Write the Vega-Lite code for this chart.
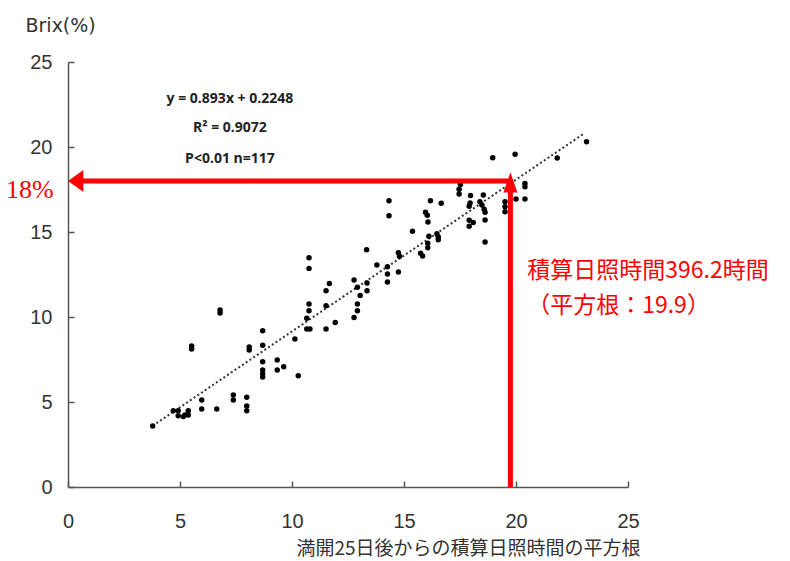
{
  "$schema": "https://vega.github.io/schema/vega-lite/v6.json",
  "width": 560,
  "height": 425,
  "autosize": {"type": "none"},
  "padding": {"left": 68, "top": 62, "right": 162, "bottom": 74},
  "background": "white",
  "config": {"view": {"stroke": null}, "axis": {"grid": false}},
  "datasets": {
    "pts": [
      {"x": 3.78, "y": 3.59}, {"x": 4.70, "y": 4.49}, {"x": 4.92, "y": 4.49}, {"x": 4.92, "y": 4.19},
      {"x": 5.15, "y": 4.14}, {"x": 5.22, "y": 4.24}, {"x": 5.37, "y": 4.49}, {"x": 5.37, "y": 4.24},
      {"x": 5.52, "y": 8.29}, {"x": 5.52, "y": 8.12}, {"x": 5.97, "y": 5.12}, {"x": 5.97, "y": 4.59},
      {"x": 6.64, "y": 4.59}, {"x": 6.79, "y": 10.41}, {"x": 6.79, "y": 10.24}, {"x": 7.38, "y": 5.41},
      {"x": 7.38, "y": 5.12}, {"x": 7.98, "y": 5.28}, {"x": 7.98, "y": 4.76}, {"x": 7.98, "y": 4.49},
      {"x": 8.09, "y": 8.24}, {"x": 8.09, "y": 8.06}, {"x": 8.69, "y": 9.19}, {"x": 8.69, "y": 8.34},
      {"x": 8.69, "y": 7.37}, {"x": 8.69, "y": 6.88}, {"x": 8.69, "y": 6.65}, {"x": 8.69, "y": 6.47},
      {"x": 9.34, "y": 7.47}, {"x": 9.34, "y": 6.88}, {"x": 9.63, "y": 7.08}, {"x": 10.13, "y": 8.71},
      {"x": 10.28, "y": 6.55}, {"x": 10.66, "y": 9.92}, {"x": 10.66, "y": 9.29}, {"x": 10.80, "y": 9.29},
      {"x": 10.76, "y": 10.76}, {"x": 10.76, "y": 10.37}, {"x": 10.76, "y": 13.49}, {"x": 10.76, "y": 12.86},
      {"x": 11.52, "y": 11.55}, {"x": 11.67, "y": 11.97}, {"x": 11.52, "y": 10.66}, {"x": 11.52, "y": 9.29},
      {"x": 11.93, "y": 9.68}, {"x": 12.77, "y": 12.18}, {"x": 12.92, "y": 11.75}, {"x": 13.04, "y": 11.26},
      {"x": 12.92, "y": 10.76}, {"x": 12.92, "y": 10.37}, {"x": 12.77, "y": 9.97}, {"x": 13.35, "y": 12.0},
      {"x": 13.35, "y": 11.54}, {"x": 13.33, "y": 13.96}, {"x": 13.79, "y": 13.06}, {"x": 14.26, "y": 12.96},
      {"x": 14.26, "y": 12.53}, {"x": 14.26, "y": 12.06}, {"x": 14.33, "y": 16.84}, {"x": 14.33, "y": 15.96},
      {"x": 14.75, "y": 13.78}, {"x": 14.80, "y": 13.57}, {"x": 14.75, "y": 12.65}, {"x": 15.38, "y": 15.04},
      {"x": 15.74, "y": 13.75}, {"x": 15.83, "y": 13.59}, {"x": 15.96, "y": 16.16}, {"x": 16.04, "y": 15.98},
      {"x": 16.07, "y": 15.59}, {"x": 16.11, "y": 14.75}, {"x": 16.47, "y": 14.90}, {"x": 16.53, "y": 14.71},
      {"x": 16.53, "y": 14.55}, {"x": 16.18, "y": 16.84}, {"x": 16.66, "y": 16.69}, {"x": 16.06, "y": 14.34},
      {"x": 16.06, "y": 14.08}, {"x": 17.52, "y": 17.79}, {"x": 17.46, "y": 17.51}, {"x": 17.46, "y": 17.24},
      {"x": 17.97, "y": 17.15}, {"x": 17.95, "y": 16.71}, {"x": 17.91, "y": 16.51}, {"x": 18.54, "y": 17.18},
      {"x": 18.39, "y": 16.78}, {"x": 18.48, "y": 16.59}, {"x": 18.58, "y": 16.34}, {"x": 18.62, "y": 16.16},
      {"x": 17.91, "y": 15.69}, {"x": 18.09, "y": 15.56}, {"x": 17.91, "y": 15.34}, {"x": 18.62, "y": 15.71},
      {"x": 18.62, "y": 14.41}, {"x": 19.51, "y": 16.78}, {"x": 19.51, "y": 16.49}, {"x": 19.51, "y": 16.19},
      {"x": 20.0, "y": 16.94}, {"x": 20.40, "y": 16.94}, {"x": 20.40, "y": 17.86}, {"x": 20.40, "y": 17.66},
      {"x": 18.96, "y": 19.37}, {"x": 19.96, "y": 19.57}, {"x": 21.84, "y": 19.35}, {"x": 23.15, "y": 20.31}
    ],
    "trend": [{"x": 3.78, "y": 3.60}, {"x": 23.0, "y": 20.76}],
    "redrules": [
      {"x": 0.6, "x2": 19.85, "y": 18.0, "y2": 18.0},
      {"x": 19.75, "x2": 19.75, "y": 0, "y2": 17.6}
    ],
    "headleft": [{"x": 0, "y": 18.0}],
    "headup": [{"x": 19.75, "y": 18.5}],
    "eqn": [
      {"x": 7.23, "y": 22.8, "label": "y = 0.893x + 0.2248"},
      {"x": 7.23, "y": 21.1, "label": "R² = 0.9072"},
      {"x": 7.23, "y": 19.3, "label": "P<0.01  n=117"}
    ],
    "pct": [{"x": -1.7, "y": 17.47, "label": "18%"}],
    "note": [
      {"x": 20.5, "y": 12.7, "label": "積算日照時間396.2時間"},
      {"x": 20.5, "y": 10.65, "label": "（平方根：19.9）"}
    ]
  },
  "encoding": {
    "x": {
      "field": "x", "type": "quantitative",
      "scale": {"domain": [0, 25], "nice": false, "zero": false},
      "axis": {
        "values": [0, 5, 10, 15, 20, 25], "tickSize": -6, "labelPadding": 30,
        "labelFlush": false, "labelOverlap": false,
        "labelFont": "Liberation Sans", "labelFontSize": 20, "labelColor": "#333",
        "domainColor": "#555", "tickColor": "#555", "domainWidth": 1.5, "tickWidth": 1.5,
        "title": "満開25日後からの積算日照時間の平方根",
        "titleFont": "Noto Sans CJK JP", "titleFontSize": 19, "titleFontWeight": "normal",
        "titleColor": "#333", "titleX": 572, "titleY": 61, "titleAlign": "right", "titleBaseline": "middle"
      }
    },
    "y": {
      "field": "y", "type": "quantitative",
      "scale": {"domain": [0, 25], "nice": false, "zero": false},
      "axis": {
        "values": [0, 5, 10, 15, 20, 25], "tickSize": -6, "labelPadding": 22,
        "labelFlush": false, "labelOverlap": false,
        "labelFont": "Liberation Sans", "labelFontSize": 20, "labelColor": "#333",
        "domainColor": "#555", "tickColor": "#555", "domainWidth": 1.5, "tickWidth": 1.5,
        "title": "Brix(%)", "titleAngle": 0, "titleX": -43, "titleY": -37,
        "titleAlign": "left", "titleBaseline": "middle",
        "titleFont": "DejaVu Sans", "titleFontSize": 19, "titleFontWeight": "normal", "titleColor": "#333"
      }
    }
  },
  "layer": [
    {
      "data": {"name": "trend"},
      "mark": {"type": "line", "color": "#333", "strokeWidth": 2, "strokeDash": [2, 2.5]}
    },
    {
      "data": {"name": "pts"},
      "mark": {"type": "point", "filled": true, "color": "#000", "opacity": 1, "size": 30}
    },
    {
      "data": {"name": "redrules"},
      "mark": {"type": "rule", "color": "#ff0000", "strokeWidth": 5},
      "encoding": {"x2": {"field": "x2"}, "y2": {"field": "y2"}}
    },
    {
      "data": {"name": "headleft"},
      "mark": {"type": "point", "filled": true, "color": "#ff0000", "opacity": 1, "size": 484,
               "shape": "M 0 0 L 1.4 -1 L 1.4 1 Z"}
    },
    {
      "data": {"name": "headup"},
      "mark": {"type": "point", "filled": true, "color": "#ff0000", "opacity": 1, "size": 400,
               "shape": "M 0 0 L -0.7 2 L 0.7 2 Z"}
    },
    {
      "data": {"name": "eqn"},
      "mark": {"type": "text", "font": "Open Sans", "fontWeight": "bold", "fontSize": 14,
               "color": "#222", "align": "center", "baseline": "middle"},
      "encoding": {"text": {"field": "label"}}
    },
    {
      "data": {"name": "pct"},
      "mark": {"type": "text", "font": "Liberation Serif", "fontSize": 26,
               "color": "#ff0000", "align": "center", "baseline": "middle"},
      "encoding": {"text": {"field": "label"}}
    },
    {
      "data": {"name": "note"},
      "mark": {"type": "text", "font": "Noto Sans CJK JP", "fontSize": 23,
               "color": "#ff0000", "align": "left", "baseline": "middle"},
      "encoding": {"text": {"field": "label"}}
    }
  ]
}
